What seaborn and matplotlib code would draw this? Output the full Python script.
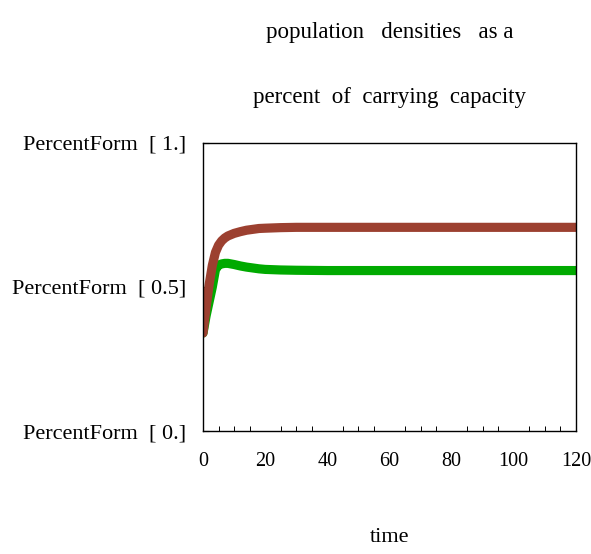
import matplotlib
matplotlib.use("Agg")
import matplotlib.pyplot as plt
from matplotlib.ticker import MultipleLocator
import seaborn as sns
import pandas as pd

# Population densities as a fraction of carrying capacity over time
time = [0, 1, 2, 3, 4, 5, 6, 7, 8, 10, 12, 14, 16, 18, 20, 25, 30, 40, 50, 60, 70, 80, 90, 100, 110, 120]
species_a = [0.34, 0.43, 0.51, 0.575, 0.620, 0.645, 0.660, 0.670, 0.677, 0.686, 0.692, 0.697, 0.700, 0.703,
             0.704, 0.706, 0.707, 0.707, 0.707, 0.707, 0.707, 0.707, 0.707, 0.707, 0.707, 0.707]
species_b = [0.34, 0.40, 0.45, 0.50, 0.560, 0.576, 0.580, 0.582, 0.582, 0.578, 0.573, 0.569, 0.566, 0.563,
             0.561, 0.559, 0.558, 0.557, 0.557, 0.557, 0.557, 0.557, 0.557, 0.557, 0.557, 0.557]
y_ticks = [0.0, 0.5, 1.0]
y_tick_labels = ["PercentForm  [ 0.]", "PercentForm  [ 0.5]", "PercentForm  [ 1.]"]
x_ticks = [0, 20, 40, 60, 80, 100, 120]

df = pd.DataFrame({
    "time": time * 2,
    "density": species_a + species_b,
    "series": ["a"] * len(time) + ["b"] * len(time),
})

sns.set_style("white")
plt.rcParams["font.family"] = ["Liberation Serif", "DejaVu Serif"]
plt.rcParams["text.color"] = "black"
plt.rcParams["xtick.color"] = "black"
plt.rcParams["ytick.color"] = "black"
plt.rcParams["axes.labelcolor"] = "black"

fig = plt.figure(figsize=(5.91, 5.54), dpi=100)
ax = fig.add_axes([0.3435, 0.222, 0.631, 0.520])

# green drawn first so the brown curve sits on top
sns.lineplot(data=df, x="time", y="density", hue="series", hue_order=["b", "a"],
             palette={"a": "#9c4030", "b": "#00aa00"},
             linewidth=6.6, legend=False, ax=ax, sort=True)

ax.set_xlim(0, 120)
ax.set_ylim(0, 1)
ax.set_xticks(x_ticks)
ax.xaxis.set_minor_locator(MultipleLocator(5))
ax.set_yticks(y_ticks)
ax.set_yticklabels(y_tick_labels)

for s in ax.spines.values():
    s.set_color("black")
    s.set_linewidth(1.0)

ax.tick_params(axis="x", which="major", direction="in", length=6, width=0.8,
               color="black", labelcolor="black", labelsize=14.5, pad=15, top=False)
ax.tick_params(axis="x", which="minor", direction="in", length=3.5, width=0.7,
               color="black", top=False, bottom=True)
ax.tick_params(axis="y", which="major", direction="in", length=4, width=0.8,
               color="black", labelcolor="black", labelsize=16, pad=12, right=False, left=True)

ax.set_xlabel("time", fontsize=16, labelpad=41, color="black")
ax.set_ylabel("")
ax.set_title("population   densities   as a\npercent  of  carrying  capacity",
             fontsize=16.5, linespacing=3.7, pad=29, color="black")

fig.savefig("out.png", dpi=100)
